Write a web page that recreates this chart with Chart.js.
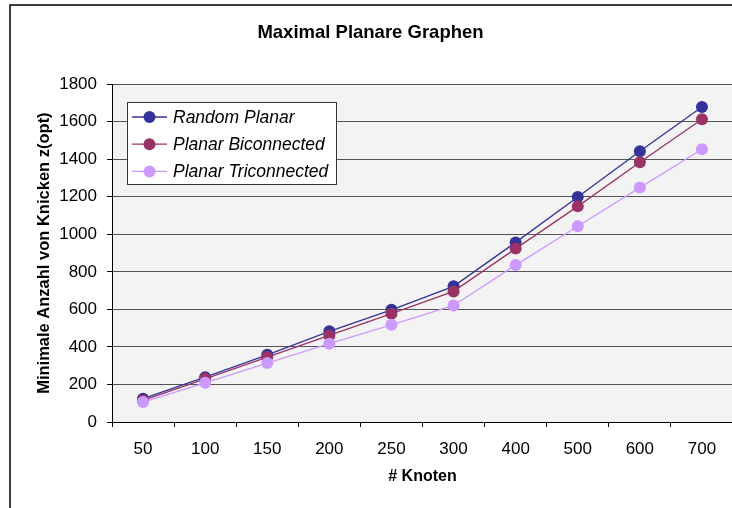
<!DOCTYPE html>
<html lang="de">
<head>
  <meta charset="UTF-8">
  <title>Maximal Planare Graphen</title>
  <script src="https://cdn.jsdelivr.net/npm/chart.js"></script>
  <style>
    html, body {
      margin: 0;
      padding: 0;
      background: #fff;
      overflow: hidden;
    }
    .wrap {
      position: relative;
      width: 739px;
      height: 508px;
    }
  </style>
</head>
<body>
  <div class="wrap">
    <canvas id="chart"></canvas>
  </div>

  <script>
    // values
    const knoten = ['50', '100', '150', '200', '250', '300', '400', '500', '600', '700'];
    const randomPlanar = [124, 239, 358, 483, 598, 723, 957, 1199, 1443, 1679];
    const planarBiconnected = [115, 230, 346, 461, 577, 696, 924, 1149, 1384, 1613];
    const planarTriconnected = [106, 209, 314, 417, 518, 621, 836, 1043, 1249, 1453];
    const yTicks = [0, 200, 400, 600, 800, 1000, 1200, 1400, 1600, 1800];

    Chart.defaults.font.family = "'Liberation Sans', Arial, sans-serif";
    Chart.defaults.color = '#000';

    // grey plot area + outer frame
    const plotBackground = {
      id: 'plotBackground',
      beforeDraw(chart) {
        const { ctx, chartArea: a } = chart;
        ctx.save();
        ctx.fillStyle = '#f3f3f3';
        ctx.fillRect(a.left, a.top, a.right - a.left, a.bottom - a.top);
        ctx.restore();
      },
      afterDraw(chart) {
        const ctx = chart.ctx;
        ctx.save();
        ctx.strokeStyle = '#000';
        ctx.lineWidth = 1.5;
        ctx.beginPath();
        ctx.moveTo(10, 508);
        ctx.lineTo(10, 5);
        ctx.lineTo(739, 5);
        ctx.stroke();
        ctx.restore();
      }
    };

    // legend box inside the plot, like the original
    const innerLegend = {
      id: 'innerLegend',
      afterDraw(chart) {
        const ctx = chart.ctx;
        const box = { x: 127, y: 102, w: 209, h: 82 };
        ctx.save();
        ctx.fillStyle = '#fff';
        ctx.fillRect(box.x, box.y, box.w, box.h);
        ctx.strokeStyle = '#333';
        ctx.lineWidth = 1;
        ctx.strokeRect(box.x + 0.5, box.y + 0.5, box.w, box.h);
        ctx.font = "italic 17.5px 'Liberation Sans', Arial, sans-serif";
        ctx.textBaseline = 'middle';
        ctx.textAlign = 'left';
        chart.data.datasets.forEach((ds, i) => {
          const y = 117 + i * 27.2;
          ctx.strokeStyle = ds.borderColor;
          ctx.lineWidth = 1.3;
          ctx.beginPath();
          ctx.moveTo(132, y);
          ctx.lineTo(167, y);
          ctx.stroke();
          ctx.fillStyle = ds.borderColor;
          ctx.beginPath();
          ctx.arc(149.5, y, 6, 0, Math.PI * 2);
          ctx.fill();
          ctx.fillStyle = '#000';
          ctx.fillText(ds.label, 173, y + 1);
        });
        ctx.restore();
      }
    };

    function series(label, data, color, order) {
      return {
        label: label,
        data: data,
        borderColor: color,
        backgroundColor: color,
        pointBackgroundColor: color,
        pointBorderWidth: 0,
        pointRadius: 6,
        pointHoverRadius: 6,
        borderWidth: 1.3,
        tension: 0,
        order: order
      };
    }

    new Chart(document.getElementById('chart'), {
      type: 'line',
      data: {
        labels: knoten,
        datasets: [
          series('Random Planar', randomPlanar, '#333399', 2),
          series('Planar Biconnected', planarBiconnected, '#993366', 1),
          series('Planar Triconnected', planarTriconnected, '#cc99ff', 0)
        ]
      },
      plugins: [plotBackground, innerLegend],
      options: {
        responsive: true,
        maintainAspectRatio: false,
        animation: false,
        layout: { padding: { left: 2, right: 0, top: 0, bottom: 0 } },
        plugins: {
          legend: { display: false },
          tooltip: { enabled: false },
          title: {
            display: true,
            text: 'Maximal Planare Graphen',
            font: { size: 18.5, weight: 'bold' },
            color: '#000',
            padding: { top: 22, bottom: 40 }
          }
        },
        scales: {
          x: {
            offset: true,
            afterFit(scale) { scale.height = 86; },
            grid: {
              offset: true,
              drawOnChartArea: false,
              drawTicks: true,
              tickLength: 5,
              color: '#000'
            },
            border: { color: '#000', width: 1 },
            ticks: {
              font: { size: 17 },
              color: '#000',
              padding: 12,
              maxRotation: 0
            },
            title: {
              display: true,
              text: '# Knoten',
              font: { size: 16, weight: 'bold' },
              color: '#000',
              padding: { top: 0, bottom: 22 }
            }
          },
          y: {
            min: 0,
            max: 1800,
            afterFit(scale) { scale.width = 110; },
            afterBuildTicks(scale) {
              scale.ticks = yTicks.map(v => ({ value: v }));
            },
            grid: {
              color: '#555',
              lineWidth: 1,
              drawTicks: true,
              tickLength: 5,
              tickColor: '#000'
            },
            border: { color: '#000', width: 1 },
            ticks: {
              font: { size: 17 },
              color: '#000',
              padding: 10,
              callback: v => String(v)
            },
            title: {
              display: true,
              text: 'Minimale Anzahl von Knicken z(opt)',
              font: { size: 16.5, weight: 'bold' },
              color: '#000',
              padding: { top: 33, bottom: 0 }
            }
          }
        }
      }
    });
  </script>
</body>
</html>
